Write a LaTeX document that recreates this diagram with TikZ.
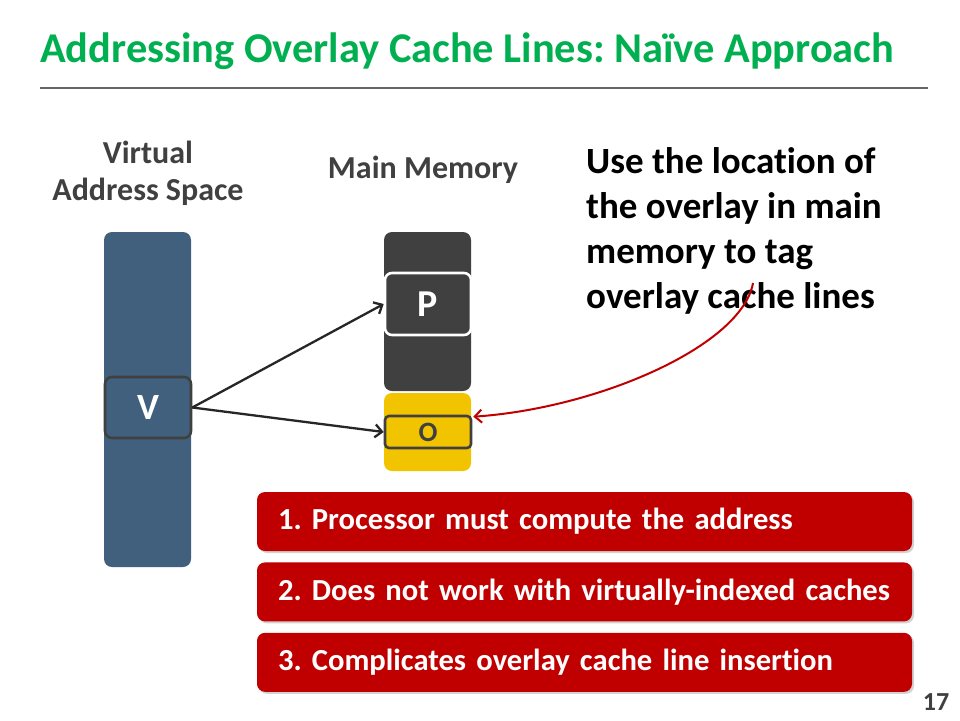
\documentclass[tikz,border=0pt]{standalone}
\usepackage{fontspec}
\setmainfont{Carlito}[Ligatures={NoCommon}]
\usetikzlibrary{arrows.meta, positioning, shadows}
\definecolor{ovgreen}{HTML}{00B050}
\definecolor{ovblue}{HTML}{41607D}
\definecolor{ovdark}{HTML}{404040}
\definecolor{ovgold}{HTML}{F2C400}
\definecolor{ovred}{HTML}{C00000}
\frenchspacing

\begin{document}
\begin{tikzpicture}[x=1pt, y=-1pt,
    column/.style={rectangle, rounded corners=8pt, fill=#1, minimum width=87pt, inner sep=0pt},
    cell/.style={rectangle, rounded corners=7pt, draw=#1, line width=2.6pt, inner sep=0pt,
                 minimum width=86pt, font=\bfseries},
    label/.style={font=\fontsize{32}{37}\selectfont\bfseries, text=ovdark, align=center},
    problem/.style={rectangle, rounded corners=8pt, fill=ovred, text=white, minimum width=655pt,
                    minimum height=59pt, text width=613pt, inner xsep=21pt, align=left,
                    font=\fontsize{30.6}{34}\selectfont\bfseries,
                    drop shadow={opacity=0.35, shadow xshift=2pt, shadow yshift=-2pt}},
    arrow/.style={-{Straight Barb[length=7pt, width=13pt]}, line width=2.3pt, black!85}
  ]
    \useasboundingbox (0,0) rectangle (960,720);
    \fill[white] (0,0) rectangle (960,720);
    % heading
    \node[anchor=base west, inner sep=0pt, text=ovgreen, font=\fontsize{42.4}{50}\selectfont\bfseries]
      (title) at (40,62) {Addressing Overlay Cache Lines: Naïve Approach};
    \draw[ovdark!80, line width=1.6pt] (40,88) -- (928,88);
    % virtual address space
    \node[label] (vlabel) at (148,173) {Virtual\\Address Space};
    \node[column=ovblue, minimum height=335pt] (vas) at (147.5,399.5) {};
    \node[cell=ovdark, fill=ovblue, text=white, minimum height=61pt,
          font=\fontsize{37}{37}\selectfont\bfseries] (v) at (148,407.5) {V};
    % main memory
    \node[label] (mlabel) at (423,170) {Main Memory};
    \node[column=ovdark, minimum height=159pt] (mem) at (427.5,311.5) {};
    \node[cell=white, fill=ovdark, text=white, minimum height=62pt,
          font=\fontsize{38}{38}\selectfont\bfseries] (p) at (428,304) {P};
    \node[column=ovgold, minimum height=78pt] (ovl) at (427.5,432) {};
    \node[cell=ovdark, fill=ovgold, text=ovdark, minimum height=32pt, rounded corners=4pt,
          font=\fontsize{28}{28}\selectfont\bfseries] (o) at (428,432) {O};
    \draw[arrow] (v.east) -- (o.west);
    \draw[arrow] (v.east) -- (p.west);
    % idea
    \node[anchor=north west, inner sep=0pt, align=left, font=\fontsize{37}{45}\selectfont\bfseries]
      (idea) at (586,147) {Use the location of\\the overlay in main\\memory to tag\\overlay cache lines};
    \coordinate (tag) at (753,283);
    \draw[-{Straight Barb[length=7pt, width=13pt]}, line width=2pt, ovred]
      (tag) .. controls (742,345) and (600,408) .. ([xshift=1pt, yshift=-2pt]o.north east);
    % drawbacks
    \node[problem] (d1) at (584.5,521.5) {1. Processor must compute the address};
    \node[problem, below=11pt of d1] (d2) {2. Does not work with virtually-indexed caches};
    \node[problem, below=11pt of d2] (d3) {3. Complicates overlay cache line insertion};
    \node[font=\fontsize{26}{26}\selectfont\bfseries, text=ovdark] (page) at (936,702) {17};
  \end{tikzpicture}
\end{document}
